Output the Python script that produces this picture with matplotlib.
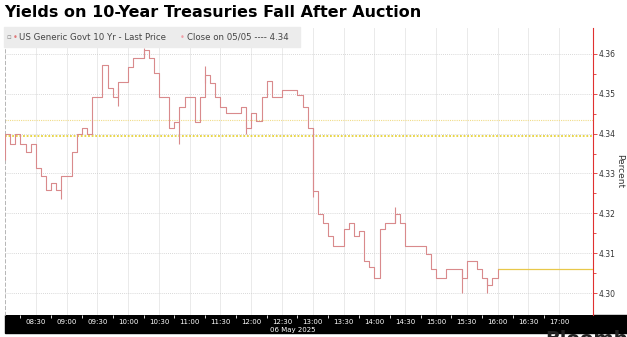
import numpy as np
import matplotlib
matplotlib.use('Agg')
import matplotlib.pyplot as plt
from matplotlib.patches import Rectangle

# 10yr yield, 5-minute closes, 06 May 2025 08:00 - 16:00
close = [4.3398, 4.3374, 4.3398, 4.3374, 4.3354, 4.3374, 4.3314, 4.3293, 4.3258, 4.3277,
         4.3258, 4.3293, 4.3293, 4.3354, 4.3398, 4.3414, 4.3398, 4.3491, 4.3491, 4.3571,
         4.3515, 4.3493, 4.3530, 4.3530, 4.3568, 4.3590, 4.3590, 4.3610, 4.3590, 4.3553,
         4.3493, 4.3493, 4.3415, 4.3430, 4.3468, 4.3493, 4.3493, 4.3430, 4.3493, 4.3548,
         4.3527, 4.3493, 4.3468, 4.3452, 4.3452, 4.3452, 4.3468, 4.3414, 4.3452, 4.3431,
         4.3493, 4.3531, 4.3493, 4.3493, 4.3510, 4.3510, 4.3510, 4.3498, 4.3468, 4.3414,
         4.3256, 4.3198, 4.3177, 4.3143, 4.3118, 4.3118, 4.3160, 4.3177, 4.3143, 4.3155,
         4.3081, 4.3065, 4.3039, 4.3160, 4.3177, 4.3177, 4.3198, 4.3177, 4.3118, 4.3118,
         4.3118, 4.3118, 4.3098, 4.3060, 4.3039, 4.3039, 4.3060, 4.3060, 4.3060, 4.3039,
         4.3081, 4.3081, 4.3060, 4.3039, 4.3020, 4.3039, 4.3060]
# bar extremes that stick out of the step line (bar index, low, high)
wick_idx = [0, 11, 22, 27, 34, 39, 47, 60, 76, 89, 94]
wick_lo = [4.3335, 4.3237, 4.3470, 4.3590, 4.3373, 4.3527, 4.3398, 4.3240, 4.3177, 4.3000, 4.3000]
wick_hi = [4.3398, 4.3258, 4.3515, 4.3615, 4.3430, 4.3570, 4.3430, 4.3414, 4.3215, 4.3060, 4.3039]

prev_close = 4.3395   # close on 05/05
avg_line = 4.3433
yticks = [4.30, 4.31, 4.32, 4.33, 4.34, 4.35, 4.36]
tick_labels = ['08:30', '09:00', '09:30', '10:00', '10:30', '11:00', '11:30', '12:00', '12:30',
               '13:00', '13:30', '14:00', '14:30', '15:00', '15:30', '16:00', '16:30', '17:00']

W, H = 627, 337
fig = plt.figure(figsize=(W / 100, H / 100), dpi=100)
ax = fig.add_axes([5 / W, (H - 315) / H, 588 / W, 287 / H])

x = np.arange(len(close)) * 5  # minutes after 08:00
line_col = '#d98a8c'
ax.step(x, close, where='post', color=line_col, lw=0.8, zorder=3)
ax.vlines(x[wick_idx], wick_lo, wick_hi, color=line_col, lw=0.8, zorder=3)

xmax = 573
ax.hlines(close[-1], x[-1], xmax, color='#e8c84a', lw=0.9, zorder=3)
ax.axhline(prev_close, color='#e6d23a', lw=1.3, ls=(0, (1, 1)), zorder=2)
ax.axhline(avg_line, color='#f0dc8a', lw=0.8, ls=(0, (1, 1)), zorder=2)

ax.set_xlim(0, xmax)
ax.set_ylim(4.2945, 4.3665)

# right axis
ax.yaxis.tick_right()
ax.yaxis.set_label_position('right')
ax.set_yticks(yticks)
ax.set_yticklabels(['%.2f' % v for v in yticks])
ax.set_yticks(np.array(yticks[:-1]) + 0.005, minor=True)
ax.tick_params(axis='y', which='both', colors='#e03030', labelcolor='#333333',
               labelsize=5.5, length=3, width=0.6, pad=1)
ax.tick_params(axis='y', which='minor', length=2)
ax.set_ylabel('Percent', rotation=270, fontsize=6.5, color='#333333', labelpad=6)

# bottom time axis
major = np.arange(30, 541, 30)
ax.set_xticks(major)
ax.set_xticklabels(tick_labels)
ax.set_xticks(major - 15, minor=True)
ax.tick_params(axis='x', which='major', length=0, labelsize=5, labelcolor='white', pad=3)
ax.tick_params(axis='x', which='minor', length=2, color='white', width=0.6)

for v in major:
    ax.axvline(v, color='#e6e6e6', lw=0.6, zorder=1)
for v in yticks:
    ax.axhline(v, color='#cccccc', lw=0.6, ls=(0, (1, 1.5)), zorder=1)

ax.spines['top'].set_visible(False)
ax.spines['bottom'].set_visible(False)
ax.spines['right'].set_color('#e03030')
ax.spines['right'].set_linewidth(0.8)
ax.spines['left'].set_color('#aaaaaa')
ax.spines['left'].set_linewidth(0.6)
ax.spines['left'].set_linestyle((0, (4, 3)))

# black band under the chart
fig.patches.append(Rectangle((5 / W, (H - 333) / H), 1 - 5 / W, 18 / H,
                             transform=fig.transFigure, color='black', zorder=-1))
fig.text(293 / W, (H - 330) / H, '06 May 2025', color='white', fontsize=5,
         ha='center', va='center')

# title
fig.text(4 / W, (H - 5) / H, 'Yields on 10-Year Treasuries Fall After Auction',
         fontsize=11.5, weight='heavy', va='top', ha='left', color='black')

# legend box
fig.patches.append(Rectangle((4 / W, (H - 47) / H), 296 / W, 20 / H,
                             transform=fig.transFigure, color='#ececec', zorder=5))
ly = (H - 37) / H
fig.text(6 / W, ly, '\u25ab', fontsize=5, color='#888888', va='center', zorder=6)
fig.text(13 / W, ly, '\u2022', fontsize=6, color='#e07878', va='center', zorder=6)
fig.text(19 / W, ly, 'US Generic Govt 10 Yr - Last Price', fontsize=6.2,
         color='#444444', va='center', zorder=6)
fig.text(180 / W, ly, '\u2022', fontsize=6, color='#f0a0a8', va='center', zorder=6)
fig.text(187 / W, ly, 'Close on 05/05 ---- 4.34', fontsize=6.2,
         color='#444444', va='center', zorder=6)

fig.text(545 / W, (H - 349) / H, 'Bloomberg', fontsize=14, weight='bold',
         color='#222222', va='bottom', ha='left')

fig.savefig('out.png', dpi=100)
